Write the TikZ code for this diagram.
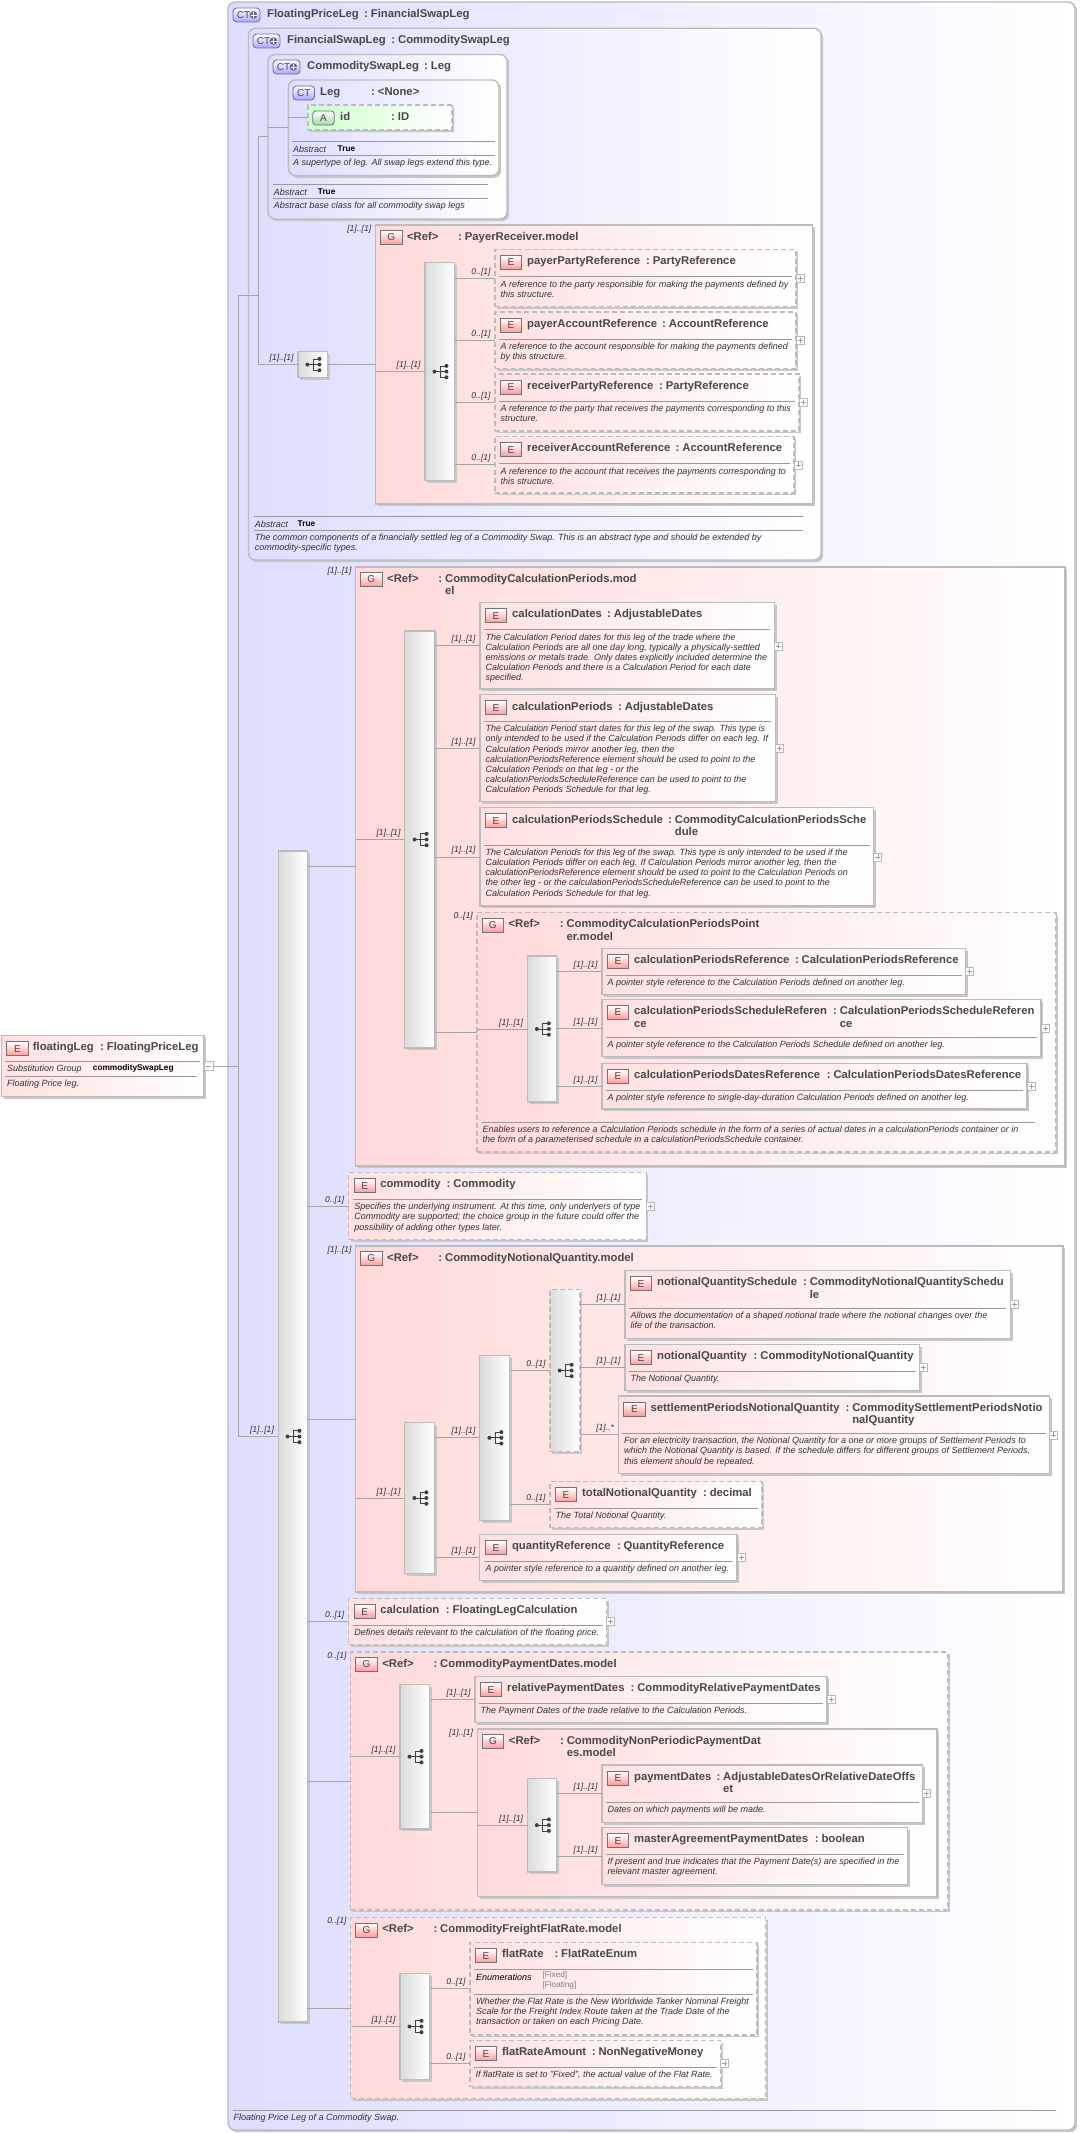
\documentclass[tikz,border=0pt]{standalone}
\usepackage{fontspec}
\setmainfont{Liberation Sans}
\usetikzlibrary{arrows,positioning,shadows,shapes.misc}
\definecolor{ctc}{RGB}{221,221,255}
\definecolor{col1}{RGB}{255,217,217}
\definecolor{col2}{RGB}{255,224,224}
\definecolor{col3}{RGB}{205,255,205}
\definecolor{edgec}{RGB}{188,188,188}
\definecolor{linec}{RGB}{165,165,165}
\definecolor{txtc}{RGB}{72,72,72}
\newcommand{\fttl}{\bfseries\fontsize{11.3}{12.6}\selectfont}
\newcommand{\fdsc}{\itshape\fontsize{9}{10.1}\selectfont}
\tikzset{shad/.style={drop shadow={shadow xshift=2.2pt,shadow yshift=-2.2pt,fill=black!22,opacity=1}}}
\tikzstyle{base}=[rectangle,anchor=north west,inner sep=0pt,outer sep=0pt,shad]
\tikzstyle{el}=[base,draw=edgec,line width=1.2pt,left color=col2,right color=white]
\tikzstyle{eldash}=[el,dash pattern=on 5pt off 3pt]
\tikzstyle{grp}=[base,draw=edgec,line width=1.2pt,left color=col1,right color=white]
\tikzstyle{grpdash}=[grp,dash pattern=on 5pt off 3pt]
\tikzstyle{seq}=[base,draw=edgec,line width=1.2pt,left color=black!14,right color=white]
\tikzstyle{seqdash}=[seq,dash pattern=on 5pt off 3pt]
\tikzstyle{ct}=[base,draw=edgec,line width=1.4pt,left color=ctc,right color=white,rounded corners=7pt]
\tikzstyle{attr}=[base,draw=edgec,line width=1.2pt,dash pattern=on 5pt off 3pt,left color=col3,right color=white,chamfered rectangle,chamfered rectangle corners={north west,south west},chamfered rectangle xsep=9pt,chamfered rectangle ysep=12.4pt]
\tikzstyle{ico}=[rectangle,anchor=north west,inner sep=0pt,outer sep=0pt,draw=black!55,line width=.8pt,minimum width=21.5pt,minimum height=14pt,top color=white,bottom color=red!40,text=txtc,font=\fontsize{10}{12}\selectfont]
\tikzstyle{attico}=[ico,top color=white,bottom color=green!55!black!35]
\tikzstyle{ctico}=[ico,rounded corners=3.5pt,draw=black!55!blue!60,top color=white,bottom color=ctc!70!blue!90,text=black!70]
\tikzstyle{ctplus}=[ctico,minimum width=27pt,path picture={
  \fill[blue!20!black!60] ([xshift=-6.5pt]path picture bounding box.east) circle (3.8pt);
  \draw[white,line width=.9pt] ([xshift=-9.5pt]path picture bounding box.east) -- ([xshift=-3.5pt]path picture bounding box.east);
  \draw[white,line width=.9pt] ([shift={(-6.5pt,3pt)}]path picture bounding box.east) -- ([shift={(-6.5pt,-3pt)}]path picture bounding box.east);}]
\tikzstyle{ttl}=[anchor=north west,inner sep=0pt,align=left,text=txtc,font=\fttl]
\tikzstyle{dsc}=[anchor=north west,inner sep=0pt,align=left,text=black!80,font=\fdsc]
\tikzstyle{key}=[anchor=west,inner sep=0pt,text=black!80,font=\fdsc]
\tikzstyle{val}=[anchor=west,inner sep=0pt,text=black,font=\bfseries\fontsize{8.3}{10}\selectfont]
\tikzstyle{card}=[pos=1,anchor=base east,inner sep=0pt,xshift=-4pt,yshift=4pt,text=black!80,font=\itshape\fontsize{8.6}{10}\selectfont]
\tikzstyle{cardgrp}=[anchor=east,inner sep=0pt,text=black!80,font=\itshape\fontsize{8.6}{10}\selectfont]
\tikzstyle{conn}=[draw=linec,line width=.8pt]
\tikzstyle{rulel}=[draw=black!40,line width=.8pt]
\tikzstyle{plusb}=[rectangle,draw=black!28,fill=white,line width=.7pt,minimum size=8pt,inner sep=0pt,outer sep=0pt,path picture={
  \draw[black!38,line width=.6pt] ([xshift=-2.5pt]path picture bounding box.center) -- ([xshift=2.5pt]path picture bounding box.center);
  \draw[black!38,line width=.6pt] ([yshift=-2.5pt]path picture bounding box.center) -- ([yshift=2.5pt]path picture bounding box.center);}]
\tikzstyle{minusb}=[rectangle,draw=black!28,fill=white,line width=.7pt,minimum size=9pt,inner sep=0pt,outer sep=0pt,path picture={
  \draw[black!38,line width=.6pt] ([xshift=-2.5pt]path picture bounding box.center) -- ([xshift=2.5pt]path picture bounding box.center);}]
\tikzset{seqmark/.pic={
  \draw[black!75,line width=.7pt] (-6.3,0) -- (-.7,0) (-.7,-5.7) -- (-.7,5.7) (-.7,-5.7) -- (5.7,-5.7) (-.7,0) -- (5.7,0) (-.7,5.7) -- (5.7,5.7);
  \fill[black!75] (-6.3,0) circle (2) (5.7,-5.7) circle (2) (5.7,0) circle (2) (5.7,5.7) circle (2);}}
\newcommand{\boxat}[6]{\node[#2,minimum width={(#5-#3)*1pt},minimum height={(#6-#4)*1pt}] (#1) at (#3,#4) {};}
% title row of any box
\newcommand{\boxtitle}[5]{
  \node[ttl] (#1-t) at ([shift={(#2,6.2)}]#1.north west) {\strut #3};
  \node[ttl] (#1-c) at ([shift={(#4,6.2)}]#1.north west) {\strut :};
  \node[ttl] (#1-y) at ([shift={(#4+6.7,6.2)}]#1.north west) {\strut #5};}
\newcommand{\elem}[7]{
  \boxat{#1}{#2}{#3}{#4}{#5}{#6}
  \node[ico] (#1-i) at ([shift={(5.3,6)}]#1.north west) {E};
  \coordinate (#1-r) at ([shift={(4,#7)}]#1.north west);
  \draw[rulel] (#1-r) -- ([shift={(-4,#7)}]#1.north east);}
\newcommand{\eldesc}[2]{\node[dsc] (#1-d) at ([shift={(1.5,3.3)}]#1-r) {\strut #2};}
\newcommand{\plusbox}[1]{\node[plusb,right=0pt of #1] (#1-p) {};}
\newcommand{\grpbox}[8]{
  \boxat{#1}{#2}{#3}{#4}{#5}{#6}
  \node[ico] (#1-i) at ([shift={(5,5.5)}]#1.north west) {G};
  \boxtitle{#1}{31.4}{<Ref>}{82.6}{#7}
  \node[cardgrp] (#1-m) at ([shift={(-4,4)}]#1.north west) {#8};}
\newcommand{\seqbox}[6]{
  \boxat{#1}{#2}{#3}{#4}{#5}{#6}
  \path (#1.center) pic[xshift=1pt] {seqmark};}
\newcommand{\metarow}[8]{
  \draw[rulel] (#2,#4) -- (#3,#4);
  \node[key] (#1-k) at (#2+1,#4+7.5) {#5};
  \node[val] (#1-v) at (#6,#4+7.5) {#7};
  \draw[rulel] (#2,#4+14) -- (#3,#4+14);
  \node[dsc] (#1-d) at (#2+1,#4+17.2) {\strut #8};}
\newcommand{\boxnote}[5]{
  \draw[rulel] (#2,#4) -- (#3,#4);
  \node[dsc] (#1-d) at (#2+.5,#4+3.2) {\strut #5};}

\begin{document}
\begin{tikzpicture}[x=1pt,y=-1pt]
  \useasboundingbox (0,0) rectangle (1079,2133);
  % root element
  \elem{floatleg}{el}{1.3}{1035.7}{204}{1096.7}{25.3}
  \boxtitle{floatleg}{31.4}{floatingLeg}{98.7}{FloatingPriceLeg}
  \node[key] (floatleg-k) at (7,1068.7) {Substitution Group};
  \node[val] (floatleg-v) at (92.7,1068.7) {commoditySwapLeg};
  \draw[rulel] (5,1076) -- (196.7,1076);
  \node[dsc] (floatleg-d) at (7,1079.5) {\strut Floating Price leg.};
  \node[minusb,right=0pt of floatleg] (floatleg-p) {};

  % complex types
  \boxat{fpl}{ct}{228}{2}{1075}{2130}
  \node[ctplus] (fpl-i) at (233,8) {\hspace*{-6pt}CT};
  \boxtitle{fpl}{39}{FloatingPriceLeg}{136}{FinancialSwapLeg}
  \boxat{fsl}{ct}{248.5}{28.3}{821}{560}
  \node[ctplus] (fsl-i) at (253,34) {\hspace*{-6pt}CT};
  \boxtitle{fsl}{38.5}{FinancialSwapLeg}{142.7}{CommoditySwapLeg}
  \boxat{csl}{ct}{268}{54.5}{507}{219}
  \node[ctplus] (csl-i) at (273,60) {\hspace*{-6pt}CT};
  \boxtitle{csl}{39}{CommoditySwapLeg}{156}{Leg}
  \boxat{leg}{ct}{288.4}{80}{499}{175.6}
  \node[ctico] (leg-i) at (293,86) {CT};
  \boxtitle{leg}{31.6}{Leg}{82.6}{<None>}
  \boxat{id}{attr}{308}{105}{452}{130}
  \node[attico,anchor=center,rounded corners=3pt] (id-i) at (323.5,118) {A};
  \boxtitle{id}{32}{id}{83}{ID}
  \metarow{legm}{292}{495}{141.5}{Abstract}{337.5}{True}{A supertype of leg. All swap legs extend this type.}
  \metarow{cslm}{272.6}{488}{184.5}{Abstract}{317.7}{True}{Abstract base class for all commodity swap legs}
  \metarow{fslm}{253.6}{803}{516.4}{Abstract}{297.5}{True}{The common components of a financially settled leg of a Commodity Swap. This is an abstract type and should be extended by\\commodity-specific types.}
  \boxnote{fplm}{233}{1056}{2110.3}{Floating Price Leg of a Commodity Swap.}

  % first sequence and its group
  \seqbox{seqtop}{seq}{298}{351.6}{327.5}{377.5}
  \grpbox{payrec}{grp}{375.4}{225}{812.3}{504}{PayerReceiver.model}{[1]..[1]}
  \seqbox{seqpay}{seq}{425}{262.5}{454.5}{480.7}
  \elem{ppr}{eldash}{495}{249.5}{796}{306.5}{27}
  \boxtitle{ppr}{32}{payerPartyReference}{151}{PartyReference}
  \eldesc{ppr}{A reference to the party responsible for making the payments defined by\\this structure.}
  \plusbox{ppr}
  \elem{par}{eldash}{495}{312}{796}{368.4}{27}
  \boxtitle{par}{32}{payerAccountReference}{167}{AccountReference}
  \eldesc{par}{A reference to the account responsible for making the payments defined\\by this structure.}
  \plusbox{par}
  \elem{rpr}{eldash}{495}{374}{799}{431}{27}
  \boxtitle{rpr}{32}{receiverPartyReference}{164}{PartyReference}
  \eldesc{rpr}{A reference to the party that receives the payments corresponding to this\\structure.}
  \plusbox{rpr}
  \elem{rar}{eldash}{495}{436.7}{794}{493}{27}
  \boxtitle{rar}{32}{receiverAccountReference}{180.5}{AccountReference}
  \eldesc{rar}{A reference to the account that receives the payments corresponding to\\this structure.}
  \plusbox{rar}

  % main sequence
  \seqbox{seqmain}{seq}{278.3}{851}{307.3}{2022}

  % calculation periods group
  \grpbox{calcg}{grp}{355.6}{567}{1065}{1166}{CommodityCalculationPeriods.mod\\el}{[1]..[1]}
  \seqbox{seqcalc}{seq}{404.8}{631}{435}{1048}
  \elem{cdt}{el}{480}{602.7}{774.4}{689}{27}
  \boxtitle{cdt}{32}{calculationDates}{127}{AdjustableDates}
  \eldesc{cdt}{The Calculation Period dates for this leg of the trade where the\\Calculation Periods are all one day long, typically a physically-settled\\emissions or metals trade. Only dates explicitly included determine the\\Calculation Periods and there is a Calculation Period for each date\\specified.}
  \plusbox{cdt}
  \elem{cpe}{el}{480}{694.8}{775.4}{801.5}{26.5}
  \boxtitle{cpe}{32}{calculationPeriods}{138}{AdjustableDates}
  \eldesc{cpe}{The Calculation Period start dates for this leg of the swap. This type is\\only intended to be used if the Calculation Periods differ on each leg. If\\Calculation Periods mirror another leg, then the\\calculationPeriodsReference element should be used to point to the\\Calculation Periods on that leg - or the\\calculationPeriodsScheduleReference can be used to point to the\\Calculation Periods Schedule for that leg.}
  \plusbox{cpe}
  \elem{cps}{el}{480}{807.8}{873.8}{906}{37.3}
  \boxtitle{cps}{32}{calculationPeriodsSchedule}{188}{CommodityCalculationPeriodsSche\\dule}
  \eldesc{cps}{The Calculation Periods for this leg of the swap. This type is only intended to be used if the\\Calculation Periods differ on each leg. If Calculation Periods mirror another leg, then the\\calculationPeriodsReference element should be used to point to the Calculation Periods on\\the other leg - or the calculationPeriodsScheduleReference can be used to point to the\\Calculation Periods Schedule for that leg.}
  \plusbox{cps}

  % pointer group
  \grpbox{ptrg}{grpdash}{477}{912.6}{1056}{1152}{CommodityCalculationPeriodsPoint\\er.model}{0..[1]}
  \seqbox{seqptr}{seq}{527.5}{956}{556.8}{1102}
  \elem{pra}{el}{602}{948.5}{965.7}{994.4}{26.5}
  \boxtitle{pra}{32}{calculationPeriodsReference}{192.8}{CalculationPeriodsReference}
  \eldesc{pra}{A pointer style reference to the Calculation Periods defined on another leg.}
  \plusbox{pra}
  \elem{prb}{el}{602}{999.5}{1041}{1056.8}{37.5}
  \boxtitle{prb}{32}{calculationPeriodsScheduleReferen\\ce}{231}{CalculationPeriodsScheduleReferen\\ce}
  \eldesc{prb}{A pointer style reference to the Calculation Periods Schedule defined on another leg.}
  \plusbox{prb}
  \elem{prc}{el}{602}{1063.5}{1027}{1109}{26.5}
  \boxtitle{prc}{32}{calculationPeriodsDatesReference}{224.6}{CalculationPeriodsDatesReference}
  \eldesc{prc}{A pointer style reference to single-day-duration Calculation Periods defined on another leg.}
  \plusbox{prc}
  \boxnote{ptrm}{482}{1035}{1122}{Enables users to reference a Calculation Periods schedule in the form of a series of actual dates in a calculationPeriods container or in\\the form of a parameterised schedule in a calculationPeriodsSchedule container.}

  % commodity
  \elem{cmd}{eldash}{348.7}{1172.7}{646.2}{1239.3}{26.6}
  \boxtitle{cmd}{31.4}{commodity}{97.8}{Commodity}
  \eldesc{cmd}{Specifies the underlying instrument. At this time, only underlyers of type\\Commodity are supported; the choice group in the future could offer the\\possibility of adding other types later.}
  \plusbox{cmd}

  % notional quantity group
  \grpbox{notg}{grp}{355.6}{1246}{1063}{1592}{CommodityNotionalQuantity.model}{[1]..[1]}
  \seqbox{seqna}{seq}{404.8}{1422.7}{434.6}{1573.3}
  \seqbox{seqnb}{seq}{479.8}{1355.3}{509.6}{1520.3}
  \seqbox{seqnc}{seqdash}{549.9}{1289.3}{580}{1451.7}
  \elem{nqs}{el}{624.9}{1270.7}{1010.4}{1338.7}{37.6}
  \boxtitle{nqs}{32}{notionalQuantitySchedule}{178}{CommodityNotionalQuantitySchedu\\le}
  \eldesc{nqs}{Allows the documentation of a shaped notional trade where the notional changes over the\\life of the transaction.}
  \plusbox{nqs}
  \elem{nqt}{el}{624.9}{1344.7}{919.5}{1390.7}{26.6}
  \boxtitle{nqt}{32}{notionalQuantity}{128.6}{CommodityNotionalQuantity}
  \eldesc{nqt}{The Notional Quantity.}
  \plusbox{nqt}
  \elem{spn}{el}{618.4}{1396}{1049.6}{1473.7}{37.3}
  \boxtitle{spn}{32}{settlementPeriodsNotionalQuantity}{227}{CommoditySettlementPeriodsNotio\\nalQuantity}
  \eldesc{spn}{For an electricity transaction, the Notional Quantity for a one or more groups of Settlement Periods to\\which the Notional Quantity is based. If the schedule differs for different groups of Settlement Periods,\\this element should be repeated.}
  \plusbox{spn}
  \elem{tnq}{eldash}{549.9}{1481.7}{762}{1527.7}{26.6}
  \boxtitle{tnq}{32}{totalNotionalQuantity}{153}{decimal}
  \eldesc{tnq}{The Total Notional Quantity.}
  \elem{qrf}{el}{479.8}{1534.7}{737}{1580.7}{26.6}
  \boxtitle{qrf}{32}{quantityReference}{137}{QuantityReference}
  \eldesc{qrf}{A pointer style reference to a quantity defined on another leg.}
  \plusbox{qrf}

  % calculation
  \elem{clc}{eldash}{348.7}{1598.7}{606.5}{1644.3}{26.6}
  \boxtitle{clc}{31.4}{calculation}{97}{FloatingLegCalculation}
  \eldesc{clc}{Defines details relevant to the calculation of the floating price.}
  \plusbox{clc}

  % payment dates group
  \grpbox{payg}{grpdash}{350.7}{1652}{947.3}{1910}{CommodityPaymentDates.model}{0..[1]}
  \seqbox{seqpd}{seq}{399.9}{1684.3}{429.7}{1829}
  \elem{rpd}{el}{474.9}{1676.7}{827}{1722.7}{26.6}
  \boxtitle{rpd}{32}{relativePaymentDates}{155.5}{CommodityRelativePaymentDates}
  \eldesc{rpd}{The Payment Dates of the trade relative to the Calculation Periods.}
  \plusbox{rpd}
  \grpbox{npg}{grp}{477.3}{1729}{936.9}{1896.7}{CommodityNonPeriodicPaymentDat\\es.model}{[1]..[1]}
  \seqbox{seqnp}{seq}{527.5}{1778.3}{556.8}{1872}
  \elem{pmd}{el}{602}{1765}{922.5}{1822.3}{37.3}
  \boxtitle{pmd}{32}{paymentDates}{114.3}{AdjustableDatesOrRelativeDateOffs\\et}
  \eldesc{pmd}{Dates on which payments will be made.}
  \plusbox{pmd}
  \elem{map}{el}{602}{1827.7}{907.5}{1884.3}{26.6}
  \boxtitle{map}{32}{masterAgreementPaymentDates}{212.6}{boolean}
  \eldesc{map}{If present and true indicates that the Payment Date(s) are specified in the\\relevant master agreement.}

  % flat rate group
  \grpbox{frg}{grpdash}{350.7}{1917.7}{765.5}{2098.3}{CommodityFreightFlatRate.model}{0..[1]}
  \seqbox{seqfr}{seq}{399.9}{1973.3}{429.7}{2079.7}
  \elem{frt}{eldash}{469.9}{1942.7}{757}{2035}{26.6}
  \boxtitle{frt}{32}{flatRate}{84.4}{FlatRateEnum}
  \node[key,text=black] (frt-k) at (475.9,1977) {Enumerations};
  \node[anchor=north west,inner sep=0pt,align=left,text=black!50,font=\fontsize{8.2}{10}\selectfont] (frt-v) at (542.4,1971.5) {[Fixed]\\{}[Floating]};
  \draw[rulel] (474,1994) -- (753,1994);
  \node[dsc] (frt-d) at (475.9,1997.3) {\strut Whether the Flat Rate is the New Worldwide Tanker Nominal Freight\\Scale for the Freight Index Route taken at the Trade Date of the\\transaction or taken on each Pricing Date.};
  \elem{fra}{eldash}{469.9}{2040.7}{720.8}{2086.7}{26.6}
  \boxtitle{fra}{32}{flatRateAmount}{121.7}{NonNegativeMoney}
  \eldesc{fra}{If flatRate is set to "Fixed", the actual value of the Flat Rate.}
  \plusbox{fra}

  % connectors
  \coordinate (busa) at (238.7,295);
  \coordinate (busb) at (258,295);
  \path[conn]
  (floatleg-p.east) edge (busa |- floatleg-p.east)
  (busa) edge (busa |- seqmain.west)
  (busa |- seqmain.west) edge node[card] (m1) {[1]..[1]} (seqmain.west)
  (busa) edge (busb)
  (busb |- csl.west) edge (csl.west)
  (busb |- csl.west) edge (busb |- seqtop.west)
  (busb |- seqtop.west) edge node[card] (m2) {[1]..[1]} (seqtop.west)
  (csl.west |- leg.west) edge (leg.west)
  (leg.west |- id.west) edge (id.west)
  (seqtop.east) edge (seqtop.east -| payrec.west)
  (payrec.west |- seqpay.west) edge node[card] (m3) {[1]..[1]} (seqpay.west)
  (seqpay.east |- ppr.west) edge node[card] (m4) {0..[1]} (ppr.west)
  (seqpay.east |- par.west) edge node[card] (m5) {0..[1]} (par.west)
  (seqpay.east |- rpr.west) edge node[card] (m6) {0..[1]} (rpr.west)
  (seqpay.east |- rar.west) edge node[card] (m7) {0..[1]} (rar.west)
  (seqmain.east |- calcg.west) edge (calcg.west)
  (calcg.west |- seqcalc.west) edge node[card] (m8) {[1]..[1]} (seqcalc.west)
  (seqcalc.east |- cdt.west) edge node[card] (m9) {[1]..[1]} (cdt.west)
  (seqcalc.east |- cpe.west) edge node[card] (m10) {[1]..[1]} (cpe.west)
  (seqcalc.east |- cps.west) edge node[card] (m11) {[1]..[1]} (cps.west)
  (seqcalc.east |- ptrg.west) edge (ptrg.west)
  (ptrg.west |- seqptr.west) edge node[card] (m12) {[1]..[1]} (seqptr.west)
  (seqptr.east |- pra.west) edge node[card] (m13) {[1]..[1]} (pra.west)
  (seqptr.east |- prb.west) edge node[card] (m14) {[1]..[1]} (prb.west)
  (seqptr.east |- prc.west) edge node[card] (m15) {[1]..[1]} (prc.west)
  (seqmain.east |- cmd.west) edge node[card] (m16) {0..[1]} (cmd.west)
  (seqmain.east |- notg.west) edge (notg.west)
  (notg.west |- seqna.west) edge node[card] (m17) {[1]..[1]} (seqna.west)
  (seqna.east |- seqnb.west) edge node[card] (m18) {[1]..[1]} (seqnb.west)
  (seqna.east |- qrf.west) edge node[card] (m19) {[1]..[1]} (qrf.west)
  (seqnb.east |- seqnc.west) edge node[card] (m20) {0..[1]} (seqnc.west)
  (seqnb.east |- tnq.west) edge node[card] (m21) {0..[1]} (tnq.west)
  (seqnc.east |- nqs.west) edge node[card] (m22) {[1]..[1]} (nqs.west)
  (seqnc.east |- nqt.west) edge node[card] (m23) {[1]..[1]} (nqt.west)
  (seqnc.east |- spn.west) edge node[card] (m24) {[1]..*} (spn.west)
  (seqmain.east |- clc.west) edge node[card] (m25) {0..[1]} (clc.west)
  (seqmain.east |- payg.west) edge (payg.west)
  (payg.west |- seqpd.west) edge node[card] (m26) {[1]..[1]} (seqpd.west)
  (seqpd.east |- rpd.west) edge node[card] (m27) {[1]..[1]} (rpd.west)
  (seqpd.east |- npg.west) edge (npg.west)
  (npg.west |- seqnp.west) edge node[card] (m28) {[1]..[1]} (seqnp.west)
  (seqnp.east |- pmd.west) edge node[card] (m29) {[1]..[1]} (pmd.west)
  (seqnp.east |- map.west) edge node[card] (m30) {[1]..[1]} (map.west)
  (seqmain.east |- frg.west) edge (frg.west)
  (frg.west |- seqfr.west) edge node[card] (m31) {[1]..[1]} (seqfr.west)
  (seqfr.east |- frt.west) edge node[card] (m32) {0..[1]} (frt.west)
  (seqfr.east |- fra.west) edge node[card] (m33) {0..[1]} (fra.west);
\end{tikzpicture}
\end{document}
